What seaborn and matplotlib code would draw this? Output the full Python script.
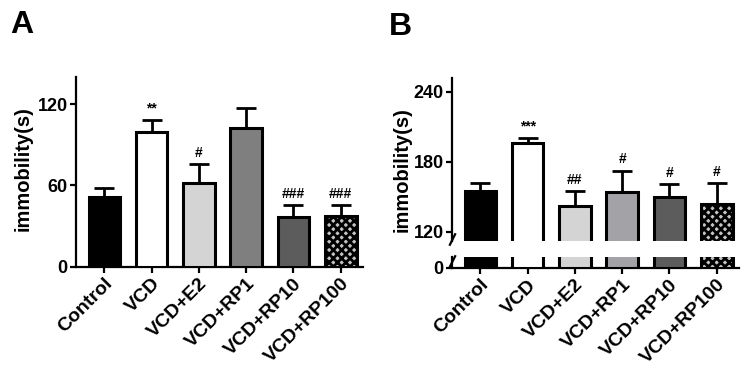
import matplotlib
matplotlib.use("Agg")
import matplotlib.pyplot as plt
import seaborn as sns
import pandas as pd

# groups on the x axis
groups = ["Control", "VCD", "VCD+E2", "VCD+RP1", "VCD+RP10", "VCD+RP100"]

# panel A values (mean, upper error)
a_mean = [51.4, 99.5, 61.5, 102.1, 36.5, 37.5]
a_err = [6.9, 8.8, 14.5, 14.7, 8.8, 7.8]
a_marks = ["", "**", "#", "", "###", "###"]

# panel B values
b_mean = [155.1, 195.7, 142.0, 154.0, 149.7, 143.5]
b_err = [6.6, 4.6, 12.6, 18.3, 11.2, 18.0]
b_marks = ["", "***", "##", "#", "#", "#"]

a_colors = ["#000000", "#ffffff", "#d4d4d4", "#7f7f7f", "#5c5c5c", "#c4c4c4"]
b_colors = ["#000000", "#ffffff", "#d4d4d4", "#a3a3a7", "#5c5c5c", "#c4c4c4"]

sns.set_style("ticks")
plt.rcParams["font.family"] = ["Liberation Sans", "DejaVu Sans"]
plt.rcParams["font.weight"] = "bold"
plt.rcParams["hatch.linewidth"] = 2.0
for k in ["text.color", "axes.labelcolor", "xtick.color", "ytick.color",
          "axes.edgecolor"]:
    plt.rcParams[k] = "black"

fig = plt.figure(figsize=(7.48, 3.71), dpi=100)
W, H = 748, 371


def px_axes(l, r, top, bottom):
    return fig.add_axes([l / W, 1 - bottom / H, (r - l) / W, (bottom - top) / H])


def bars(ax, means, errs, colors, marks=None):
    df = pd.DataFrame({"group": groups, "value": means})
    sns.barplot(data=df, x="group", y="value", hue="group", palette=colors,
                legend=False, width=0.67, edgecolor="black", linewidth=2.2,
                saturation=1, ax=ax, zorder=3)
    ax.patches[5].set_hatch("xxxx")
    ax.errorbar(range(len(groups)), means, yerr=[[0] * len(errs), errs],
                fmt="none", ecolor="black", elinewidth=2, capsize=7,
                capthick=2, zorder=2)
    if marks:
        for i, m in enumerate(marks):
            if m:
                ax.annotate(m, (i, means[i] + errs[i]), xytext=(0, 3),
                            textcoords="offset points", ha="center",
                            va="bottom", fontsize=10, fontweight="bold")
    ax.set_xlim(-0.6, 5.47)
    ax.set_xlabel("")
    ax.set_ylabel("")


def style(ax, xt=True):
    for s in ["top", "right"]:
        ax.spines[s].set_visible(False)
    for s in ["left", "bottom"]:
        ax.spines[s].set_linewidth(1.6)
    ax.tick_params(axis="both", width=1.6, length=4.5, pad=1.5)
    ax.tick_params(axis="y", labelsize=13)
    if xt:
        ax.tick_params(axis="x", labelsize=14)
        for lab in ax.get_xticklabels():
            lab.set_rotation(45)
            lab.set_ha("right")
            lab.set_rotation_mode("anchor")
            lab.set_fontweight("bold")
    for lab in ax.get_yticklabels():
        lab.set_fontweight("bold")


# ---- panel A ----
axA = px_axes(76, 363, 77, 266.7)
bars(axA, a_mean, a_err, a_colors, a_marks)
axA.set_ylim(0, 140)
axA.set_yticks([0, 60, 120])
style(axA)
axA.set_ylabel("immobility(s)", fontsize=14.5, fontweight="bold")
axA.yaxis.set_label_coords(-0.15, 0.515)

# ---- panel B (broken y axis) ----
axB = px_axes(452, 739, 78, 241)
bars(axB, b_mean, b_err, b_colors, b_marks)
axB.set_ylim(112, 251.7)
axB.set_yticks([120, 180, 240])
axB.spines["bottom"].set_visible(False)
axB.set_xticks([])
style(axB, xt=False)
axB.set_ylabel("immobility(s)", fontsize=14.5, fontweight="bold")
axB.yaxis.set_label_coords(-0.14, 0.44)

axB0 = px_axes(452, 739, 256.7, 268)
bars(axB0, b_mean, b_err, b_colors)
axB0.set_ylim(0, 9.7)
axB0.set_yticks([0])
style(axB0)

# break marks on the y axis
kw = dict(marker=[(-0.5, -1), (0.5, 1)], markersize=9, linestyle="none",
          color="k", mec="k", mew=1.6, clip_on=False)
axB.plot([0], [0.015], transform=axB.transAxes, **kw)
axB0.plot([0], [0.6], transform=axB0.transAxes, **kw)

fig.text(10 / W, 1 - 33 / H, "A", fontsize=23, fontweight="bold")
fig.text(389 / W, 1 - 35 / H, "B", fontsize=23, fontweight="bold")

fig.savefig("out.png", dpi=100)
